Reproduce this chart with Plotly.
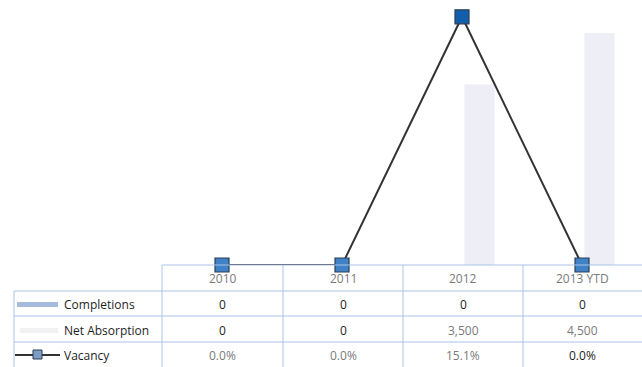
import plotly.graph_objects as go

# Data
categories = ["2010", "2011", "2012", "2013 YTD"]
completions = [0, 0, 0, 0]
net_absorption = [0, 0, 3500, 4500]
vacancy = [0.0, 0.0, 15.1, 0.0]

W, H = 642, 367


def px(x):
    return x / W


def py(y):
    return 1 - y / H


FONT = "Open Sans"
LINE_BLUE = "#a9c4e8"
GRAY = "#7a7a7a"
BLACK = "#1e1e1e"

fig = go.Figure()

fig.add_trace(go.Bar(
    x=categories, y=completions, name="Completions",
    marker=dict(color="#9fb4d6", line=dict(width=0)),
    offset=-0.23, width=0.25, yaxis="y", showlegend=False,
))
fig.add_trace(go.Bar(
    x=categories, y=net_absorption, name="Net Absorption",
    marker=dict(color="#eeeef6", line=dict(width=0)),
    offset=0.02, width=0.25, yaxis="y", showlegend=False,
))
fig.add_trace(go.Scatter(
    x=categories, y=vacancy, name="Vacancy", mode="lines+markers",
    line=dict(color="#333333", width=2),
    marker=dict(symbol="square", size=14,
                color=["#3f82c8", "#3f82c8", "#1260ad", "#3f82c8"],
                line=dict(color="#2b3e58", width=1.2)),
    yaxis="y2", cliponaxis=False, showlegend=False,
))

top_y, bottom_y = 2, 265
fig.update_layout(
    width=W, height=H,
    margin=dict(l=0, r=0, t=0, b=0, pad=0),
    paper_bgcolor="white", plot_bgcolor="white",
    xaxis=dict(domain=[px(162), 1], range=[-0.5, 3.5], showticklabels=False,
               showgrid=False, zeroline=False, showline=False, ticks=""),
    yaxis=dict(domain=[py(bottom_y), py(top_y)], range=[0, 5100], visible=False),
    yaxis2=dict(domain=[py(bottom_y), py(top_y)], range=[0, 16], overlaying="y",
                visible=False),
    barmode="overlay",
)

# Data table grid
col_edges = [162, 283, 403, 523, 642]
row_edges = [265, 291, 316, 342, 367]
shapes = []
shapes.append(dict(type="line", xref="paper", yref="paper",
                   x0=px(162), x1=px(642), y0=py(265), y1=py(265),
                   line=dict(color=LINE_BLUE, width=1)))
for y in row_edges[1:4]:
    shapes.append(dict(type="line", xref="paper", yref="paper",
                       x0=px(14), x1=px(642), y0=py(y), y1=py(y),
                       line=dict(color=LINE_BLUE, width=1)))
for x in col_edges[:4]:
    shapes.append(dict(type="line", xref="paper", yref="paper",
                       x0=px(x), x1=px(x), y0=py(265), y1=py(367),
                       line=dict(color=LINE_BLUE, width=1)))
shapes.append(dict(type="line", xref="paper", yref="paper",
                   x0=px(14), x1=px(14), y0=py(291), y1=py(367),
                   line=dict(color=LINE_BLUE, width=1)))

# Legend keys inside the table
shapes.append(dict(type="rect", xref="paper", yref="paper",
                   x0=px(17), x1=px(58), y0=py(302), y1=py(307),
                   fillcolor="#a6badb", line=dict(width=0)))
shapes.append(dict(type="rect", xref="paper", yref="paper",
                   x0=px(20), x1=px(58), y0=py(328), y1=py(333),
                   fillcolor="#f1f1f4", line=dict(width=0)))
shapes.append(dict(type="line", xref="paper", yref="paper",
                   x0=px(15), x1=px(60), y0=py(355), y1=py(355),
                   line=dict(color="#333333", width=2)))
shapes.append(dict(type="rect", xref="paper", yref="paper",
                   x0=px(33), x1=px(42), y0=py(350), y1=py(359),
                   fillcolor="#7f9cc4", line=dict(color="#2b3e58", width=1)))
fig.update_layout(shapes=shapes)

annotations = []


def cell(text, xc, yc, color, anchor="center"):
    annotations.append(dict(
        text=text, xref="paper", yref="paper", x=px(xc), y=py(yc),
        xanchor=anchor, yanchor="middle", showarrow=False,
        font=dict(family=FONT, size=12, color=color),
    ))


centers = [(col_edges[i] + col_edges[i + 1]) / 2 for i in range(4)]
for i, c in enumerate(categories):
    cell(c, centers[i], 278, GRAY)

cell("Completions", 62, 304, BLACK, "left")
cell("Net Absorption", 62, 330, BLACK, "left")
cell("Vacancy", 62, 355, BLACK, "left")

comp_colors = [BLACK, BLACK, BLACK, BLACK]
abs_colors = [BLACK, BLACK, GRAY, GRAY]
vac_colors = [GRAY, GRAY, GRAY, BLACK]
for i in range(4):
    cell(f"{completions[i]:,}", centers[i], 304, comp_colors[i])
    cell(f"{net_absorption[i]:,}", centers[i], 330, abs_colors[i])
    cell(f"{vacancy[i]:.1f}%", centers[i], 355, vac_colors[i])

fig.update_layout(annotations=annotations)

fig.write_html("out.html")
